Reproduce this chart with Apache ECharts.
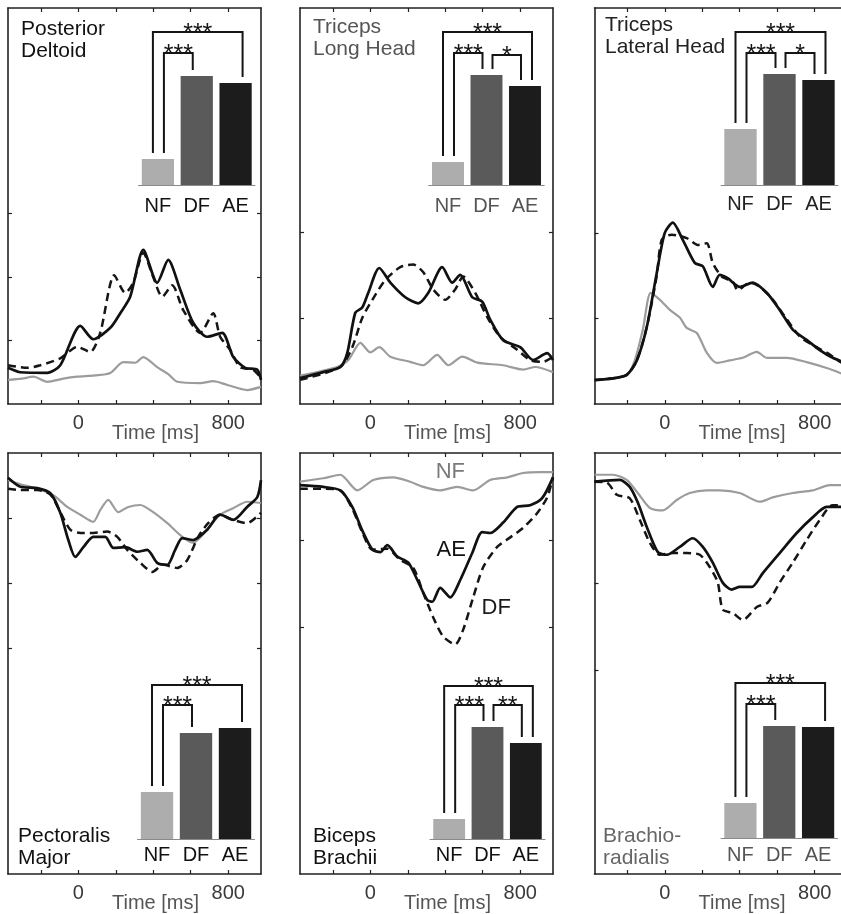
<!DOCTYPE html>
<html>
<head>
<meta charset="utf-8">
<script src="https://cdn.jsdelivr.net/npm/echarts@6/dist/echarts.min.js"></script>
<style>
  html, body { margin: 0; padding: 0; background: #fff; }
  #chart { width: 841px; height: 914px; }
</style>
</head>
<body>
<div id="chart"></div>
<script>
// ---- shared axes ----
const timeTicks = [-200, 0, 200, 400, 600, 800];
const timeLabels = [0, 800];
const conditions = ['NF', 'DF', 'AE'];

// ---- Posterior Deltoid (mean EMG, arbitrary units) ----
const deltoidNF = [[-375,0.38],[-300,0.40],[-240,0.43],[-165,0.35],[-80,0.40],[-5,0.43],[90,0.45],[171,0.49],[240,0.66],[304,0.65],[347,0.74],[421,0.58],[480,0.47],[528,0.35],[651,0.33],[720,0.36],[795,0.30],[901,0.22],[975,0.27]];
const deltoidDF = [[-375,0.61],[-272,0.57],[-203,0.61],[-96,0.72],[-5,0.90],[64,0.82],[117,1.12],[192,2.03],[251,1.75],[293,1.91],[347,2.38],[400,2.00],[448,1.69],[501,1.87],[560,1.48],[651,1.12],[720,1.43],[757,1.06],[811,0.85],[864,0.58],[933,0.54],[975,0.41]];
const deltoidAE = [[-375,0.57],[-309,0.50],[-165,0.49],[-96,0.61],[11,1.23],[80,1.02],[171,1.20],[224,1.43],[277,1.69],[347,2.43],[421,1.91],[480,2.27],[544,1.80],[613,1.28],[688,1.06],[768,1.12],[827,0.74],[891,0.57],[955,0.54],[975,0.38]];
const deltoidYTicks = [1, 2, 3];
const deltoidYRange = [0, 6.24];
const deltoidBars = [0.26, 1.09, 1.02];
const deltoidSig = [[0, 2, 1.53, '***'], [0, 1, 1.32, '***']];

// ---- Triceps Long Head ----
const tricepsLongNF = [[-375,0.33],[-176,0.43],[-117,0.51],[-53,0.71],[0,0.60],[48,0.66],[107,0.55],[213,0.49],[283,0.45],[357,0.57],[416,0.45],[491,0.55],[571,0.48],[709,0.45],[816,0.40],[880,0.43],[975,0.37]];
const tricepsLongDF = [[-375,0.28],[-160,0.43],[-96,0.66],[-43,1.00],[11,1.21],[80,1.44],[160,1.59],[229,1.62],[283,1.53],[336,1.33],[400,1.21],[453,1.33],[496,1.48],[560,1.29],[624,1.01],[693,0.78],[784,0.63],[853,0.51],[923,0.49],[975,0.55]];
const tricepsLongAE = [[-375,0.30],[-251,0.37],[-160,0.43],[-123,0.59],[-80,1.06],[-43,1.12],[-11,1.29],[48,1.58],[107,1.41],[187,1.24],[256,1.17],[309,1.29],[384,1.59],[437,1.41],[480,1.50],[544,1.24],[597,1.19],[640,0.98],[709,0.74],[800,0.66],[869,0.51],[944,0.59],[975,0.51]];
const tricepsLongYTicks = [1, 2];
const tricepsLongYRange = [0, 4.6];
const tricepsLongBars = [0.23, 1.10, 0.99];
const tricepsLongSig = [[0, 2, 1.53, '***'], [0, 1, 1.32, '***'], [1, 2, 1.30, '*']];

// ---- Triceps Lateral Head ----
const tricepsLatNF = [[-375,0.28],[-203,0.34],[-160,0.51],[-117,0.87],[-75,1.30],[-27,1.22],[27,1.10],[80,1.01],[117,0.89],[171,0.83],[224,0.60],[277,0.48],[347,0.51],[416,0.54],[491,0.61],[544,0.54],[651,0.54],[757,0.49],[864,0.42],[975,0.33]];
const tricepsLatDF = [[-375,0.28],[-277,0.30],[-203,0.34],[-149,0.51],[-96,0.90],[-43,1.50],[-16,1.92],[37,1.98],[117,1.94],[176,1.86],[224,1.88],[256,1.65],[304,1.49],[363,1.43],[389,1.33],[453,1.42],[507,1.37],[576,1.22],[651,0.99],[720,0.79],[789,0.69],[864,0.60],[939,0.49],[975,0.45]];
const tricepsLatAE = [[-375,0.28],[-277,0.30],[-203,0.34],[-149,0.51],[-96,0.90],[-43,1.53],[0,2.00],[43,2.12],[96,1.92],[160,1.65],[203,1.61],[256,1.37],[293,1.51],[336,1.47],[400,1.37],[469,1.42],[544,1.30],[613,1.10],[683,0.87],[757,0.75],[827,0.63],[896,0.54],[975,0.47]];
const tricepsLatYTicks = [1, 2];
const tricepsLatYRange = [0, 4.63];
const tricepsLatBars = [0.56, 1.11, 1.05];
const tricepsLatSig = [[0, 2, 1.53, '***'], [0, 1, 1.32, '***'], [1, 2, 1.32, '*']];

// ---- Pectoralis Major ----
const pectoralisNF = [[-375,-0.42],[-309,-0.48],[-219,-0.55],[-133,-0.65],[-59,-0.83],[11,-0.95],[80,-1.06],[117,-0.88],[160,-0.72],[213,-0.91],[267,-0.83],[331,-0.80],[400,-0.91],[475,-1.08],[555,-1.29],[613,-1.38],[688,-1.18],[757,-0.95],[827,-0.85],[901,-0.75],[975,-0.77]];
const pectoralisDF = [[-375,-0.55],[-309,-0.57],[-219,-0.57],[-149,-0.64],[-96,-0.91],[-43,-1.18],[11,-1.23],[80,-1.23],[155,-1.21],[208,-1.29],[261,-1.49],[331,-1.69],[395,-1.83],[453,-1.72],[528,-1.77],[581,-1.65],[640,-1.29],[693,-1.08],[757,-0.95],[827,-1.03],[901,-1.08],[975,-0.92]];
const pectoralisAE = [[-375,-0.38],[-309,-0.52],[-219,-0.54],[-149,-0.62],[-96,-0.92],[-53,-1.34],[-16,-1.60],[27,-1.45],[80,-1.29],[144,-1.29],[187,-1.46],[251,-1.45],[315,-1.52],[368,-1.49],[421,-1.69],[475,-1.72],[517,-1.49],[555,-1.31],[613,-1.34],[688,-1.18],[757,-0.95],[827,-1.03],[901,-0.83],[955,-0.68],[975,-0.42]];
const pectoralisYTicks = [-1, -2, -3];
const pectoralisYRange = [-6.48, 0];
const pectoralisBars = [0.47, 1.06, 1.11];
const pectoralisSig = [[0, 2, 1.54, '***'], [0, 1, 1.34, '***']];

// ---- Biceps Brachii ----
const bicepsNF = [[-375,-0.33],[-251,-0.29],[-160,-0.25],[-69,-0.43],[16,-0.31],[123,-0.28],[213,-0.33],[283,-0.39],[373,-0.43],[464,-0.39],[549,-0.43],[640,-0.31],[731,-0.28],[816,-0.23],[907,-0.22],[975,-0.22]];
const bicepsDF = [[-375,-0.41],[-251,-0.41],[-160,-0.43],[-96,-0.64],[-43,-0.91],[11,-1.11],[91,-1.10],[160,-1.23],[229,-1.32],[283,-1.61],[336,-1.89],[389,-2.11],[453,-2.20],[496,-2.03],[549,-1.66],[603,-1.31],[677,-1.08],[747,-0.97],[816,-0.86],[891,-0.69],[944,-0.51],[975,-0.28]];
const bicepsAE = [[-375,-0.37],[-251,-0.39],[-160,-0.43],[-96,-0.62],[-43,-0.89],[11,-1.11],[53,-1.14],[91,-1.06],[144,-1.19],[203,-1.26],[251,-1.46],[304,-1.69],[331,-1.71],[373,-1.55],[427,-1.66],[480,-1.46],[544,-1.15],[597,-0.91],[640,-0.92],[709,-0.80],[784,-0.62],[853,-0.60],[917,-0.52],[975,-0.28]];
const bicepsYTicks = [-1, -2];
const bicepsYRange = [-4.84, 0];
const bicepsBars = [0.20, 1.12, 0.96];
const bicepsSig = [[0, 2, 1.53, '***'], [0, 1, 1.34, '***'], [1, 2, 1.34, '**']];
const bicepsNotes = [['NF', 427, -0.22], ['AE', 432, -1.11], ['DF', 672, -1.78]];

// ---- Brachioradialis ----
const brachioNF = [[-375,-0.25],[-277,-0.25],[-203,-0.31],[-144,-0.46],[-80,-0.63],[-11,-0.66],[64,-0.54],[133,-0.46],[224,-0.43],[293,-0.43],[400,-0.46],[507,-0.56],[576,-0.51],[683,-0.46],[789,-0.43],[880,-0.37],[975,-0.37]];
const brachioDF = [[-375,-0.33],[-309,-0.34],[-256,-0.48],[-187,-0.52],[-133,-0.77],[-80,-1.03],[-27,-1.17],[43,-1.15],[117,-1.15],[187,-1.17],[240,-1.31],[283,-1.49],[309,-1.80],[363,-1.84],[416,-1.92],[491,-1.77],[549,-1.72],[613,-1.49],[683,-1.26],[757,-1.00],[827,-0.77],[896,-0.60],[975,-0.60]];
const brachioAE = [[-375,-0.33],[-240,-0.31],[-187,-0.39],[-144,-0.57],[-96,-0.85],[-37,-1.14],[11,-1.17],[80,-1.08],[149,-0.98],[203,-1.08],[256,-1.26],[309,-1.49],[357,-1.57],[400,-1.54],[464,-1.54],[523,-1.38],[613,-1.15],[704,-0.92],[789,-0.74],[864,-0.62],[975,-0.62]];
const brachioYTicks = [-1.5, -2.5];
const brachioYRange = [-4.84, 0];
const brachioBars = [0.35, 1.12, 1.11];
const brachioSig = [[0, 2, 1.55, '***'], [0, 1, 1.34, '***']];

// ---- panels: data plus where each one sits ----
const panels = [
  { title: 'Posterior\nDeltoid', nf: deltoidNF, df: deltoidDF, ae: deltoidAE, yTicks: deltoidYTicks, yRange: deltoidYRange,
    bars: deltoidBars, sig: deltoidSig, box: [8, 8, 396], barBox: [138.5, 5, 116.5, 180], labelGap: 11,
    titlePos: [21, 18], titleColor: '#111', labelColor: '#111' },
  { title: 'Triceps\nLong Head', nf: tricepsLongNF, df: tricepsLongDF, ae: tricepsLongAE, yTicks: tricepsLongYTicks, yRange: tricepsLongYRange,
    bars: tricepsLongBars, sig: tricepsLongSig, box: [300, 8, 396], barBox: [428.75, 5, 115.5, 180], labelGap: 11,
    titlePos: [313, 16], titleColor: '#555', labelColor: '#555' },
  { title: 'Triceps\nLateral Head', nf: tricepsLatNF, df: tricepsLatDF, ae: tricepsLatAE, yTicks: tricepsLatYTicks, yRange: tricepsLatYRange,
    bars: tricepsLatBars, sig: tricepsLatSig, box: [594.5, 8, 396], barBox: [721, 5, 117, 180], labelGap: 9,
    titlePos: [605, 14], titleColor: '#222', labelColor: '#222' },
  { title: 'Pectoralis\nMajor', nf: pectoralisNF, df: pectoralisDF, ae: pectoralisAE, yTicks: pectoralisYTicks, yRange: pectoralisYRange,
    bars: pectoralisBars, sig: pectoralisSig, box: [8, 453, 421], barBox: [137.5, 659, 117, 180], labelGap: 6,
    titlePos: [18, 825], titleColor: '#111', labelColor: '#111' },
  { title: 'Biceps\nBrachii', nf: bicepsNF, df: bicepsDF, ae: bicepsAE, yTicks: bicepsYTicks, yRange: bicepsYRange,
    bars: bicepsBars, sig: bicepsSig, box: [300, 453, 421], barBox: [430, 659, 115, 180], labelGap: 6,
    titlePos: [313, 825], titleColor: '#111', labelColor: '#111', notes: bicepsNotes },
  { title: 'Brachio-\nradialis', nf: brachioNF, df: brachioDF, ae: brachioAE, yTicks: brachioYTicks, yRange: brachioYRange,
    bars: brachioBars, sig: brachioSig, box: [594.5, 453, 421], barBox: [721, 658, 116.5, 180], labelGap: 7,
    titlePos: [603, 825], titleColor: '#666', labelColor: '#555' }
];

const FONT = '"Liberation Sans", Arial, Helvetica, sans-serif';
const FRAME = '#222';
const PANEL_W = 253;
const BAR_MAX = 1.8;
const barColors = ['#adadad', '#5a5a5a', '#1c1c1c'];
const noteColors = { NF: '#7a7a7a', AE: '#111', DF: '#1a1a1a' };

const grid = [], xAxis = [], yAxis = [], series = [], title = [];

panels.forEach((p, i) => {
  const gLine = 2 * i, gBar = 2 * i + 1;
  grid.push({ left: p.box[0], top: p.box[1], width: PANEL_W, height: p.box[2], outerBoundsMode: 'none', containLabel: false });
  grid.push({ left: p.barBox[0], top: p.barBox[1], width: p.barBox[2], height: p.barBox[3], outerBoundsMode: 'none', containLabel: false });

  const frameLine = { show: true, onZero: false, lineStyle: { color: FRAME, width: 1.6 } };
  const innerTick = (vals) => ({ show: true, inside: true, length: 4, customValues: vals, lineStyle: { color: FRAME, width: 1.2 } });

  // time axes (bottom with labels, top with ticks only)
  xAxis.push({
    gridIndex: gLine, type: 'value', min: -375, max: 975, position: 'bottom',
    axisLine: frameLine, axisTick: innerTick(timeTicks), splitLine: { show: false },
    axisLabel: { show: true, customValues: timeLabels, color: '#3a3a3a', fontSize: 20, fontFamily: FONT, margin: 9 },
    name: 'Time [ms]', nameLocation: 'middle', nameGap: 19, nameMoveOverlap: false,
    nameTextStyle: { color: '#555', fontSize: 20, fontFamily: FONT, padding: [0, 0, 0, 42] }
  });
  xAxis.push({
    gridIndex: gLine, type: 'value', min: -375, max: 975, position: 'top',
    axisLine: frameLine, axisTick: innerTick(timeTicks), splitLine: { show: false }, axisLabel: { show: false }
  });
  // inset category axis
  xAxis.push({
    gridIndex: gBar, type: 'category', data: conditions, position: 'bottom',
    axisLine: { show: true, onZero: false, lineStyle: { color: '#8a8a8a', width: 1 } },
    axisTick: { show: false }, splitLine: { show: false },
    axisLabel: { color: p.labelColor, fontSize: 20, fontFamily: FONT, margin: p.labelGap, interval: 0 }
  });

  yAxis.push({
    gridIndex: gLine, type: 'value', min: p.yRange[0], max: p.yRange[1], position: 'left',
    axisLine: frameLine, axisTick: innerTick(p.yTicks), axisLabel: { show: false }, splitLine: { show: false }
  });
  yAxis.push({
    gridIndex: gLine, type: 'value', min: p.yRange[0], max: p.yRange[1], position: 'right',
    axisLine: frameLine, axisTick: innerTick(p.yTicks), axisLabel: { show: false }, splitLine: { show: false }
  });
  yAxis.push({ gridIndex: gBar, type: 'value', min: 0, max: BAR_MAX, show: false });

  const xl = 3 * i, yl = 3 * i, xb = 3 * i + 2, yb = 3 * i + 2;

  // EMG traces
  series.push({ type: 'line', xAxisIndex: xl, yAxisIndex: yl, data: p.nf, symbol: 'none', smooth: 0.25,
    lineStyle: { color: '#9c9c9c', width: 2.2 }, z: 3 });
  series.push({ type: 'line', xAxisIndex: xl, yAxisIndex: yl, data: p.df, symbol: 'none', smooth: 0.25,
    lineStyle: { color: '#151515', width: 2.5, type: [8, 5] }, z: 4 });
  series.push({ type: 'line', xAxisIndex: xl, yAxisIndex: yl, data: p.ae, symbol: 'none', smooth: 0.25,
    lineStyle: { color: '#111', width: 2.7 }, z: 5 });

  // trace names written next to the curves
  if (p.notes) {
    const notes = p.notes;
    series.push({
      type: 'custom', xAxisIndex: xl, yAxisIndex: yl, z: 7, clip: false,
      data: notes.map(n => [n[1], n[2]]),
      renderItem: (params, api) => {
        const n = notes[params.dataIndex];
        const pt = api.coord([api.value(0), api.value(1)]);
        return { type: 'text', style: { text: n[0], x: pt[0], y: pt[1], align: 'center', verticalAlign: 'middle',
          fontSize: 22, fontFamily: FONT, fill: noteColors[n[0]] } };
      }
    });
  }

  // inset bars
  series.push({
    type: 'bar', xAxisIndex: xb, yAxisIndex: yb, barCategoryGap: '17%', z: 4,
    data: p.bars.map((v, k) => ({ value: v, itemStyle: { color: barColors[k] } }))
  });

  // significance brackets
  const bars = p.bars, sig = p.sig;
  series.push({
    type: 'custom', xAxisIndex: xb, yAxisIndex: yb, z: 6, clip: false,
    data: sig.map(s => [s[0], s[1], s[2]]),
    renderItem: (params, api) => {
      const s = sig[params.dataIndex];
      const a = s[0], b = s[1];
      const outer = b - a > 1;
      const pa = api.coord([a, bars[a]]);
      const pb = api.coord([b, bars[b]]);
      const yTop = api.coord([a, s[2]])[1];
      const xa = pa[0] + (outer ? -5 : 6);
      const xbp = pb[0] + (outer ? 7 : -4);
      return {
        type: 'group',
        children: [
          { type: 'polyline', shape: { points: [[xa, pa[1] - 6], [xa, yTop], [xbp, yTop], [xbp, pb[1] - 6]] },
            style: { stroke: '#151515', lineWidth: 2, fill: null } },
          { type: 'text', style: { text: s[3], x: (xa + xbp) / 2, y: yTop + 2, align: 'center', verticalAlign: 'middle',
            fontSize: 25, fontFamily: FONT, fill: '#151515' } }
        ]
      };
    }
  });

  title.push({
    text: p.title, left: p.titlePos[0], top: p.titlePos[1], padding: 0, itemGap: 0,
    textStyle: { fontSize: 21, fontWeight: 'normal', fontFamily: FONT, color: p.titleColor, lineHeight: 22 }
  });
});

const chart = echarts.init(document.getElementById('chart'), null, { renderer: 'canvas' });
chart.setOption({
  animation: false,
  backgroundColor: '#fff',
  textStyle: { fontFamily: FONT },
  title, grid, xAxis, yAxis, series
});
</script>
</body>
</html>
